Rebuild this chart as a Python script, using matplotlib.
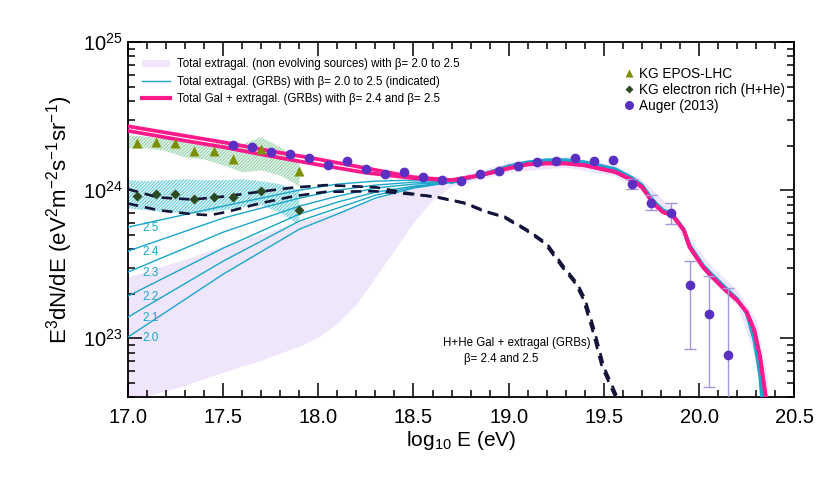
import numpy as np
import matplotlib
matplotlib.use("Agg")
import matplotlib.pyplot as plt
import matplotlib.ticker as mticker
from matplotlib.lines import Line2D
from matplotlib.patches import Patch

# --- data: x = log10(E/eV), y = log10(E^3 dN/dE) ---
auger_logE = [17.55, 17.65, 17.75, 17.85, 17.95, 18.05, 18.15, 18.25, 18.35,
              18.45, 18.55, 18.65, 18.75, 18.85, 18.95, 19.05, 19.15, 19.25,
              19.35, 19.45, 19.55, 19.65, 19.75, 19.85, 19.95, 20.05, 20.15]
auger_flux = [24.304, 24.289, 24.255, 24.241, 24.218, 24.169, 24.196, 24.144, 24.108,
              24.124, 24.088, 24.066, 24.059, 24.106, 24.130, 24.165, 24.190, 24.200,
              24.215, 24.196, 24.203, 24.045, 23.914, 23.843, 23.358, 23.162, 22.887]
auger_bar_logE = [19.65, 19.75, 19.85, 19.95, 20.05, 20.15]
auger_bar_hi = [24.074, 23.966, 23.914, 23.520, 23.419, 23.336]
auger_bar_lo = [24.007, 23.865, 23.770, 22.924, 22.671, 22.300]

kg_logE = [17.05, 17.15, 17.25, 17.35, 17.45, 17.55, 17.70, 17.90]
kg_epos = [24.322, 24.324, 24.318, 24.268, 24.266, 24.211, 24.277, 24.130]
kg_erich = [23.961, 23.973, 23.973, 23.941, 23.951, 23.953, 23.993, 23.863]

band_logE = [17.0, 17.1, 17.2, 17.3, 17.4, 17.5, 17.6, 17.7, 17.8, 17.9]
epos_hi = [24.372, 24.361, 24.351, 24.331, 24.321, 24.318, 24.311, 24.358, 24.291, 24.203]
epos_lo = [24.284, 24.284, 24.264, 24.223, 24.209, 24.169, 24.122, 24.135, 24.101, 24.027]
erich_hi = [24.068, 24.061, 24.068, 24.074, 24.068, 24.068, 24.074, 24.061, 24.041, 24.000]
erich_lo = [23.878, 23.865, 23.851, 23.845, 23.851, 23.865, 23.885, 23.899, 23.851, 23.764]

# non evolving sources band
lav_logE = [17.0, 17.08, 17.3, 17.5, 17.7, 17.9, 18.0, 18.1, 18.2, 18.3, 18.4, 18.5, 18.6,
            18.7, 19.0, 19.3, 19.56, 19.7, 19.86, 19.95, 20.06, 20.2, 20.3, 20.36]
lav_hi = [23.412, 23.446, 23.534, 23.622, 23.703, 23.784, 23.824, 23.858, 23.899, 23.939,
          23.980, 24.014, 24.050, 24.081, 24.189, 24.230, 24.169, 24.068, 23.878, 23.676,
          23.493, 23.324, 23.122, 22.716]
lav_lo = [22.446, 22.601, 22.682, 22.770, 22.851, 22.946, 23.007, 23.101, 23.230, 23.412,
          23.595, 23.784, 23.932, 24.027, 24.122, 24.155, 24.095, 23.993, 23.804, 23.595,
          23.392, 23.223, 22.851, 22.446]

# GRB models, beta = 2.0 .. 2.5 (low energy part), common high energy part
beta_labels = ["2.5", "2.4", "2.3", "2.2", "2.1", "2.0"]
beta_logE = [17.0, 17.5, 17.9, 18.1, 18.3, 18.5]
beta_flux = [
    [23.750, 23.892, 24.000, 24.041, 24.061, 24.068],
    [23.588, 23.811, 23.946, 24.000, 24.034, 24.054],
    [23.446, 23.716, 23.892, 23.959, 24.014, 24.041],
    [23.284, 23.608, 23.838, 23.919, 23.986, 24.027],
    [23.142, 23.520, 23.791, 23.878, 23.966, 24.020],
    [23.007, 23.432, 23.736, 23.838, 23.946, 24.014],
]
grb_tail_logE = [18.7, 18.85, 19.0, 19.1, 19.2, 19.3, 19.4, 19.56, 19.65, 19.70, 19.76,
                 19.81, 19.86, 19.92, 19.95, 20.02, 20.06, 20.13, 20.20, 20.25, 20.29,
                 20.32, 20.34]
grb_tail = [24.054, 24.101, 24.162, 24.189, 24.203, 24.203, 24.189, 24.142, 24.081, 24.034,
            23.926, 23.865, 23.838, 23.736, 23.628, 23.493, 23.439, 23.351, 23.264, 23.169,
            22.986, 22.750, 22.446]

# total Gal + extragal (GRBs), beta = 2.4 and 2.5
tot_logE = [17.0, 17.25, 17.5, 17.75, 18.0, 18.25, 18.5, 18.7, 18.85, 19.0, 19.1, 19.2,
            19.3, 19.4, 19.56, 19.65, 19.70, 19.76, 19.81, 19.86, 19.92, 19.95, 20.02,
            20.06, 20.13, 20.20, 20.25, 20.29, 20.32, 20.35, 20.37]
tot_24 = [24.432, 24.378, 24.324, 24.264, 24.209, 24.149, 24.088, 24.068, 24.101, 24.149,
          24.176, 24.182, 24.182, 24.169, 24.124, 24.068, 24.022, 23.910, 23.853, 23.831,
          23.730, 23.617, 23.482, 23.426, 23.336, 23.257, 23.178, 23.054, 22.874, 22.604,
          22.446]
tot_25 = [24.401, 24.345, 24.291, 24.230, 24.172, 24.118, 24.081, 24.066, 24.099, 24.147,
          24.174, 24.180, 24.180, 24.167, 24.122, 24.066, 24.020, 23.908, 23.851, 23.829,
          23.728, 23.615, 23.480, 23.424, 23.334, 23.255, 23.176, 23.052, 22.872, 22.602,
          22.446]

# H+He Gal + extragal (GRBs)
hhe1_logE = [17.0, 17.16, 17.34, 17.52, 17.69, 17.87, 18.04, 18.3, 18.46, 18.61, 18.76,
             18.88, 18.97, 19.09, 19.19, 19.28, 19.35, 19.39, 19.44, 19.49, 19.56, 19.58]
hhe1 = [24.007, 23.951, 23.937, 23.959, 23.989, 24.018, 24.034, 24.020, 23.982, 23.955,
        23.914, 23.853, 23.820, 23.730, 23.640, 23.482, 23.370, 23.268, 23.054, 22.806,
        22.603, 22.446]
hhe2_logE = [17.0, 17.16, 17.34, 17.43, 17.52, 17.69, 17.87, 18.04, 18.3, 18.46, 18.62,
             18.77, 18.89, 18.98, 19.10, 19.20, 19.29, 19.36, 19.40, 19.45, 19.50, 19.57,
             19.59]
hhe2 = [23.910, 23.865, 23.838, 23.831, 23.853, 23.910, 23.959, 23.989, 23.993, 23.976,
        23.955, 23.914, 23.853, 23.820, 23.730, 23.640, 23.482, 23.370, 23.268, 23.054,
        22.806, 22.603, 22.446]


def lin(v):
    return 10.0 ** np.asarray(v, dtype=float)


plt.rcParams['font.family'] = ['Liberation Sans', 'DejaVu Sans']
plt.rcParams['mathtext.fontset'] = 'custom'
plt.rcParams['mathtext.rm'] = 'Liberation Sans'
plt.rcParams['mathtext.it'] = 'Liberation Sans:italic'
plt.rcParams['hatch.linewidth'] = 0.7

PINK = "#ff1a8c"
CYAN = "#1aa6cc"
LAV = "#efe6fb"
DASH = "#14143a"

fig = plt.figure(figsize=(8.30, 4.79), dpi=100)
ax = fig.add_axes([0.154, 0.171, 0.803, 0.741])

# bands
ax.fill_between(lav_logE, lin(lav_lo), lin(lav_hi), color=LAV, lw=0, zorder=1)
ax.fill_between(band_logE, lin(epos_lo), lin(epos_hi), color="#e8f5ec", lw=0, zorder=2)
ax.fill_between(band_logE, lin(epos_lo), lin(epos_hi), facecolor="none",
                edgecolor="#8fd0a6", hatch="//////////", lw=0, zorder=2)
ax.fill_between(band_logE, lin(erich_lo), lin(erich_hi), color="#e6f7f9", lw=0, zorder=2)
ax.fill_between(band_logE, lin(erich_lo), lin(erich_hi), facecolor="none",
                edgecolor="#5cc9d6", hatch="//////////", lw=0, zorder=2)

# GRB models
for lab, fl in zip(beta_labels, beta_flux):
    ax.plot(beta_logE + [grb_tail_logE[0]], lin(fl + [grb_tail[0]]), color=CYAN, lw=1.0, zorder=3)
ax.plot(grb_tail_logE, lin(grb_tail), color=CYAN, lw=2.6, zorder=3)

# H+He dashed
for xs, ys in [(hhe1_logE, hhe1), (hhe2_logE, hhe2)]:
    ax.plot(xs, lin(ys), color=DASH, lw=1.9, dashes=(4, 2.6), zorder=4)

# totals
ax.plot(tot_logE, lin(tot_24), color=PINK, lw=2.7, zorder=5, solid_capstyle="butt")
ax.plot(tot_logE, lin(tot_25), color=PINK, lw=2.7, zorder=5, solid_capstyle="butt")

# data points
lo = lin(auger_bar_lo)
hi = lin(auger_bar_hi)
mid = lin(auger_flux[-6:])
ax.errorbar(auger_bar_logE, mid, yerr=[mid - lo, hi - mid], fmt="none",
            ecolor="#a795de", elinewidth=1.0, capsize=4, capthick=1.0, zorder=6)
ax.plot(auger_logE, lin(auger_flux), "o", color="#5a2fc2", ms=7, mec="none", zorder=7)
ax.plot(kg_logE, lin(kg_epos), "^", color="#7d8f00", ms=7.5, mec="none", zorder=7)
ax.plot(kg_logE, lin(kg_erich), "D", color="#2c4a22", ms=5, mec="none", zorder=7)

# beta labels
for lab, fl in zip(beta_labels, beta_flux):
    ax.text(17.075, lin(fl[0]) * 0.985, lab, color=CYAN, fontsize=8.5,
            ha="left", va="center", zorder=8)

ax.text(18.655, lin(22.966), "H+He Gal + extragal (GRBs)", fontsize=8.3, ha="left", va="center")
ax.text(18.765, lin(22.858), "β= 2.4 and 2.5", fontsize=8.3, ha="left", va="center")

# axes
ax.set_yscale("log")
ax.set_xlim(17.0, 20.5)
ax.set_ylim(4e22, 1e25)
ax.xaxis.set_major_locator(mticker.MultipleLocator(0.5))
ax.xaxis.set_minor_locator(mticker.MultipleLocator(0.1))
ax.xaxis.set_major_formatter(mticker.FormatStrFormatter("%.1f"))
ax.yaxis.set_major_locator(mticker.LogLocator(base=10, numticks=10))
ax.yaxis.set_minor_locator(mticker.LogLocator(base=10, subs=np.arange(2, 10), numticks=20))
ax.yaxis.set_minor_formatter(mticker.NullFormatter())
ax.tick_params(which="both", direction="in", top=True, right=True, width=1.1, labelsize=14.5)
ax.tick_params(which="major", length=10)
ax.tick_params(which="minor", length=5)
ax.tick_params(axis="x", pad=8)
for s in ax.spines.values():
    s.set_linewidth(1.3)

ax.set_xlabel(r"log$_{10}$ E (eV)", fontsize=15, labelpad=1)
ax.set_ylabel(r"E$^3$dN/dE (eV$^2$m$^{-2}$s$^{-1}$sr$^{-1}$)", fontsize=16, labelpad=6)

# legends
h1 = [Patch(facecolor=LAV, edgecolor="none"),
      Line2D([], [], color=CYAN, lw=1.0),
      Line2D([], [], color=PINK, lw=3)]
l1 = ["Total extragal. (non evolving sources) with β= 2.0 to 2.5",
      "Total extragal. (GRBs) with β= 2.0 to 2.5 (indicated)",
      "Total Gal + extragal. (GRBs) with β= 2.4 and β= 2.5"]
leg1 = ax.legend(h1, l1, loc="upper left", bbox_to_anchor=(0.015, 0.967), frameon=False,
                 fontsize=8.3, handlelength=2.4, handleheight=0.6, handletextpad=0.6,
                 labelspacing=0.45, borderaxespad=0)
ax.add_artist(leg1)

h2 = [Line2D([], [], ls="none", marker="^", color="#7d8f00", ms=6, mec="none"),
      Line2D([], [], ls="none", marker="D", color="#2c4a22", ms=4, mec="none"),
      Line2D([], [], ls="none", marker="o", color="#5a2fc2", ms=6.5, mec="none")]
l2 = ["KG EPOS-LHC", "KG electron rich (H+He)", "Auger (2013)"]
ax.legend(h2, l2, loc="upper left", bbox_to_anchor=(0.735, 0.945), frameon=False,
          fontsize=9.8, handlelength=0.8, handletextpad=0.4, labelspacing=0.15,
          borderaxespad=0)

fig.savefig("out.png", dpi=100)
